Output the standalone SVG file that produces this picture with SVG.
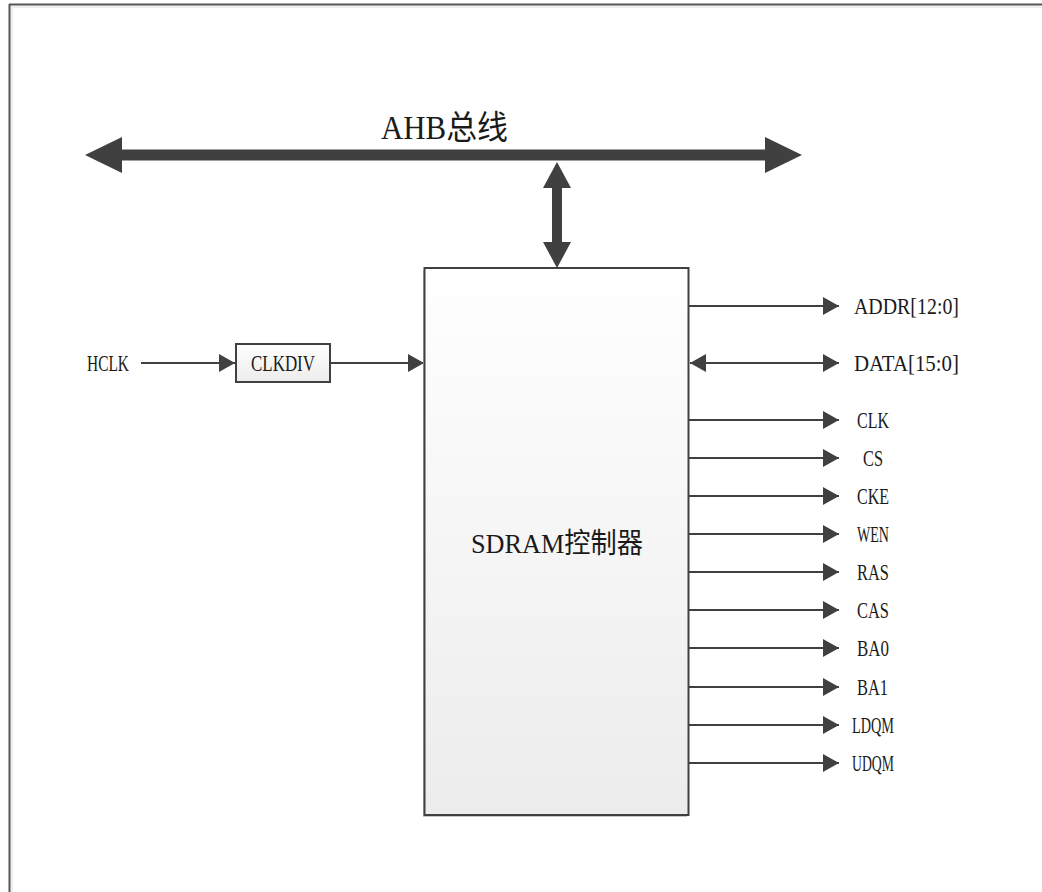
<svg xmlns="http://www.w3.org/2000/svg" width="1042" height="892" viewBox="0 0 1042 892">
<style>
.lbl{font-family:"Liberation Serif","Noto Sans CJK SC",serif;font-size:22.5px;fill:#1a1a1a}
.big{font-family:"Liberation Serif","Noto Sans CJK SC",serif;fill:#1a1a1a}
.sig{stroke:#404040;stroke-width:2;fill:none}
.box{stroke:#404040;stroke-width:2}
.bus{fill:#404040}
</style>
<defs>
<linearGradient id="g" x1="0" y1="0" x2="0" y2="1">
<stop offset="0" stop-color="#ffffff"/>
<stop offset="1" stop-color="#ececec"/>
</linearGradient>
<marker id="arr" viewBox="0 0 16 18" refX="16" refY="9" markerWidth="16" markerHeight="18" markerUnits="userSpaceOnUse" orient="auto-start-reverse">
<path d="M0,0 L16,9 L0,18 z" fill="#404040"/>
</marker>
</defs>
<rect width="1042" height="892" fill="#ffffff"/>
<g id="frame">
<line x1="9" y1="4.5" x2="1042" y2="4.5" stroke="#555" stroke-width="2"/>
<line x1="9.5" y1="4" x2="9.5" y2="892" stroke="#555" stroke-width="2"/>
<line x1="11" y1="7" x2="1042" y2="7" stroke="#eeeeee" stroke-width="2"/>
<line x1="12" y1="6" x2="12" y2="892" stroke="#eeeeee" stroke-width="2"/>
</g>
<g id="connectors">
<path class="bus" d="M85,155 L122,137 L122,149.5 L765,149.5 L765,137 L802,155 L765,173 L765,160.5 L122,160.5 L122,173 z"/>
<path class="bus" d="M557,162 L571,188 L562,188 L562,242 L571,242 L557,268 L543,242 L552,242 L552,188 L543,188 z"/>
<line class="sig" x1="141" y1="363" x2="235" y2="363" marker-end="url(#arr)"/>
<line class="sig" x1="330" y1="363" x2="424" y2="363" marker-end="url(#arr)"/>
<line class="sig" x1="689" y1="306" x2="839" y2="306" marker-end="url(#arr)"/>
<line class="sig" x1="690" y1="363" x2="839" y2="363" marker-start="url(#arr)" marker-end="url(#arr)"/>
<line class="sig" x1="689" y1="420" x2="839" y2="420" marker-end="url(#arr)"/>
<line class="sig" x1="689" y1="458" x2="839" y2="458" marker-end="url(#arr)"/>
<line class="sig" x1="689" y1="496" x2="839" y2="496" marker-end="url(#arr)"/>
<line class="sig" x1="689" y1="534" x2="839" y2="534" marker-end="url(#arr)"/>
<line class="sig" x1="689" y1="572" x2="839" y2="572" marker-end="url(#arr)"/>
<line class="sig" x1="689" y1="610" x2="839" y2="610" marker-end="url(#arr)"/>
<line class="sig" x1="689" y1="648" x2="839" y2="648" marker-end="url(#arr)"/>
<line class="sig" x1="689" y1="687" x2="839" y2="687" marker-end="url(#arr)"/>
<line class="sig" x1="689" y1="725" x2="839" y2="725" marker-end="url(#arr)"/>
<line class="sig" x1="689" y1="763" x2="839" y2="763" marker-end="url(#arr)"/>
</g>
<g id="bus-label">
<text class="big" x="381" y="139" font-size="33" textLength="127" lengthAdjust="spacingAndGlyphs">AHB总线</text>
</g>
<g id="sdram">
<rect x="423" y="270" width="264" height="547" fill="#c8c8c8"/>
<rect class="box" x="424.5" y="268" width="264" height="547" fill="url(#g)"/>
<text class="big" x="471" y="553" font-size="28" textLength="172" lengthAdjust="spacingAndGlyphs">SDRAM控制器</text>
</g>
<g id="clkdiv">
<rect class="box" x="236" y="344" width="94" height="38" fill="url(#g)"/>
<text class="lbl" x="251" y="370.5" textLength="64" lengthAdjust="spacingAndGlyphs">CLKDIV</text>
</g>
<g id="hclk"><text class="lbl" x="87" y="370.5" textLength="42" lengthAdjust="spacingAndGlyphs">HCLK</text></g>
<g id="addr"><text class="lbl" x="854" y="313.5" textLength="105" lengthAdjust="spacingAndGlyphs">ADDR[12:0]</text></g>
<g id="data"><text class="lbl" x="854" y="370.5" textLength="105" lengthAdjust="spacingAndGlyphs">DATA[15:0]</text></g>
<g id="clk"><text class="lbl" x="857" y="427.5" textLength="32" lengthAdjust="spacingAndGlyphs">CLK</text></g>
<g id="cs"><text class="lbl" x="863" y="465.5" textLength="20" lengthAdjust="spacingAndGlyphs">CS</text></g>
<g id="cke"><text class="lbl" x="857" y="503.5" textLength="32" lengthAdjust="spacingAndGlyphs">CKE</text></g>
<g id="wen"><text class="lbl" x="857" y="541.5" textLength="32" lengthAdjust="spacingAndGlyphs">WEN</text></g>
<g id="ras"><text class="lbl" x="857" y="579.5" textLength="32" lengthAdjust="spacingAndGlyphs">RAS</text></g>
<g id="cas"><text class="lbl" x="857" y="617.5" textLength="32" lengthAdjust="spacingAndGlyphs">CAS</text></g>
<g id="ba0"><text class="lbl" x="857" y="655.5" textLength="32" lengthAdjust="spacingAndGlyphs">BA0</text></g>
<g id="ba1"><text class="lbl" x="857" y="694.5" textLength="31" lengthAdjust="spacingAndGlyphs">BA1</text></g>
<g id="ldqm"><text class="lbl" x="852" y="732.5" textLength="42" lengthAdjust="spacingAndGlyphs">LDQM</text></g>
<g id="udqm"><text class="lbl" x="852" y="770.5" textLength="42" lengthAdjust="spacingAndGlyphs">UDQM</text></g>
</svg>
